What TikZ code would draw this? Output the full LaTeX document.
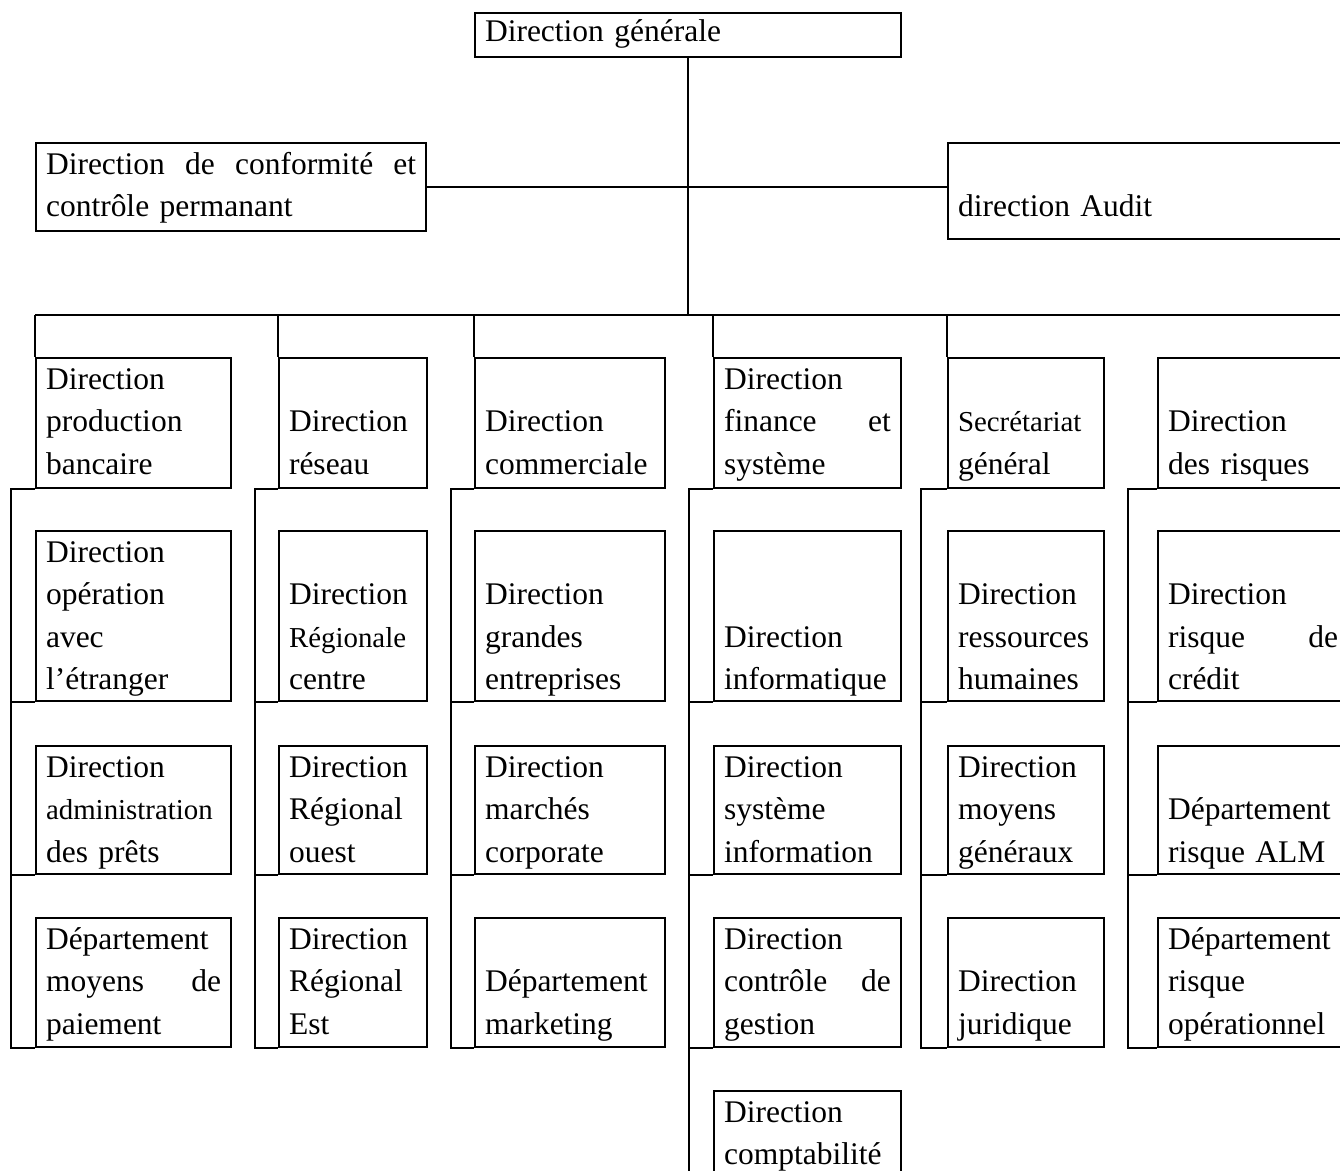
\documentclass[tikz,border=0pt]{standalone}
\usepackage{fontspec}
\setmainfont{Liberation Serif}
\newcommand{\smallword}[1]{{\fontsize{11}{16.1}\selectfont #1}}
\tikzset{
  unit/.style={draw, anchor=north west, align=left, inner xsep=3.8pt, inner ysep=0pt,
    text height=12pt, font=\fontsize{12}{16.1}\selectfont},
  % column widths
  c1/.style={text width=66.7pt}, c2/.style={text width=48.8pt},
  c3/.style={text width=64.8pt}, c4/.style={text width=63.6pt},
  c5/.style={text width=51.8pt}, c6/.style={text width=64.8pt},
  % row heights
  r1/.style={text depth=37.5pt}, r2/.style={text depth=52.8pt},
  r3/.style={text depth=36.8pt}, r4/.style={text depth=37.1pt},
  r5/.style={text depth=33pt}
}
\begin{document}
\begin{tikzpicture}[x=0.381pt, y=-0.381pt, line width=0.8pt]
  \useasboundingbox (0,0) rectangle (1340,1171);
  \clip (0,0) rectangle (1340,1171);
  % head
  \node[unit, text width=154.7pt, text height=11pt, text depth=5.8pt] (dg) at (474,12) {Direction générale};
  \node[unit, text width=141pt, text depth=21.5pt] (conf) at (35,142)
    {Direction \hfill de \hfill conformité \hfill et\\contrôle permanant};
  \node[unit, text width=150pt, text depth=24.6pt] (audit) at (947,142) {~\\direction Audit};
  \coordinate (bus) at (35,315); \coordinate (busend) at (1345,315);
  % row 1
  \node[unit, c1, r1] (prod) at (35,357) {Direction\\production\\bancaire};
  \node[unit, c2, r1] (res) at (278,357) {~\\Direction\\réseau};
  \node[unit, c3, r1] (com) at (474,357) {~\\Direction\\commerciale};
  \node[unit, c4, r1] (fin) at (713,357) {Direction\\finance \hfill et\\système};
  \node[unit, c5, r1] (sec) at (947,357) {~\\\smallword{Secrétariat}\\général};
  \node[unit, c6, r1] (risk) at (1157,357) {~\\Direction\\des risques};
  % row 2
  \node[unit, c1, r2] (ope) at (35,530) {Direction\\opération\\avec\\l’étranger};
  \node[unit, c2, r2] (rc) at (278,530) {~\\Direction\\\smallword{Régionale}\\centre};
  \node[unit, c3, r2] (ge) at (474,530) {~\\Direction\\grandes\\entreprises};
  \node[unit, c4, r2] (info) at (713,530) {~\\~\\Direction\\informatique};
  \node[unit, c5, r2] (rh) at (947,530) {~\\Direction\\ressources\\humaines};
  \node[unit, c6, r2] (cred) at (1157,530) {~\\Direction\\risque \hfill de\\crédit};
  % row 3
  \node[unit, c1, r3] (adm) at (35,745) {Direction\\\smallword{administration}\\des prêts};
  \node[unit, c2, r3] (ro) at (278,745) {Direction\\Régional\\ouest};
  \node[unit, c3, r3] (mc) at (474,745) {Direction\\marchés\\corporate};
  \node[unit, c4, r3] (si) at (713,745) {Direction\\système\\information};
  \node[unit, c5, r3] (mg) at (947,745) {Direction\\moyens\\généraux};
  \node[unit, c6, r3] (alm) at (1157,745) {~\\Département\\risque ALM};
  % row 4
  \node[unit, c1, r4] (paie) at (35,917) {Département\\moyens \hfill de\\paiement};
  \node[unit, c2, r4] (re) at (278,917) {Direction\\Régional\\Est};
  \node[unit, c3, r4] (mkt) at (474,917) {~\\Département\\marketing};
  \node[unit, c4, r4] (cdg) at (713,917) {Direction\\contrôle \hfill de\\gestion};
  \node[unit, c5, r4] (jur) at (947,917) {~\\Direction\\juridique};
  \node[unit, c6, r4] (rop) at (1157,917) {Département\\risque\\opérationnel};
  % row 5
  \node[unit, c4, r5] (compta) at (713,1090) {Direction\\comptabilité};
  % links
  \draw (dg.south) -- (dg.south |- bus);
  \draw (conf.east) -- (conf.east -| audit.west);
  \draw (bus) -- (busend);
  \foreach \c in {prod,res,com,fin,sec}
    \draw (bus -| \c.west) -- (\c.north west);
  \draw (prod.south west) -- ++(-24,0) |- (paie.south west);
  \draw (res.south west) -- ++(-23,0) |- (re.south west);
  \draw (com.south west) -- ++(-23,0) |- (mkt.south west);
  \draw (fin.south west) -- ++(-24,0) |- (compta.south west);
  \draw (sec.south west) -- ++(-26,0) |- (jur.south west);
  \draw (risk.south west) -- ++(-29,0) |- (rop.south west);
  \foreach \c/\d in {ope/24,adm/24,rc/23,ro/23,ge/23,mc/23,info/24,si/24,cdg/24,rh/26,mg/26,cred/29,alm/29}
    \draw (\c.south west) -- ++(-\d,0);
\end{tikzpicture}
\end{document}
